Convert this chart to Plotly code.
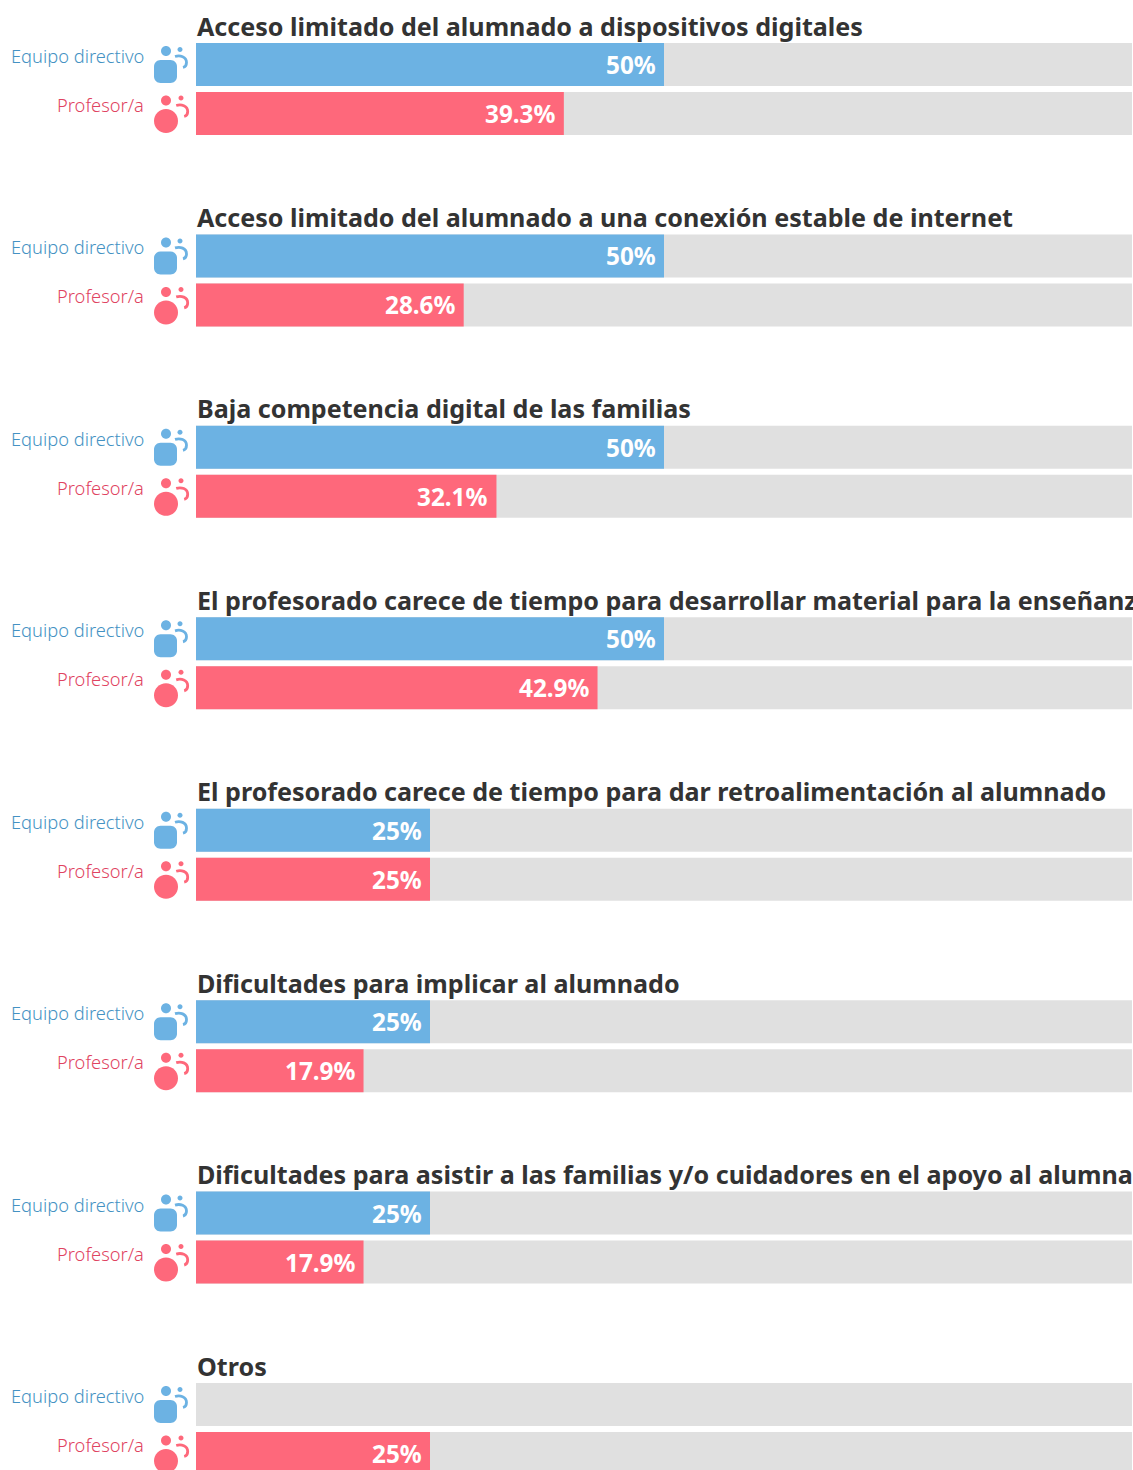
import plotly.graph_objects as go

categories = [
    "Acceso limitado del alumnado a dispositivos digitales",
    "Acceso limitado del alumnado a una conexión estable de internet",
    "Baja competencia digital de las familias",
    "El profesorado carece de tiempo para desarrollar material para la enseñanza",
    "El profesorado carece de tiempo para dar retroalimentación al alumnado",
    "Dificultades para implicar al alumnado",
    "Dificultades para asistir a las familias y/o cuidadores en el apoyo al alumnado",
    "Otros",
]
equipo_directivo = [50, 50, 50, 50, 25, 25, 25, None]
profesor = [39.3, 28.6, 32.1, 42.9, 25, 17.9, 17.9, 25]
series_names = ["Equipo directivo", "Profesor/a"]

W, H = 1133, 1470
LEFT, SCALE = 196, 9.36
STEP, ROW, BAR, C0 = 191.43, 49.0, 43.0, 64.5
BLUE, RED = "#6CB2E3", "#FE687B"
BLUE_T, RED_T = "#4492C3", "#DF4361"
TITLE_FONT = "Noto Sans"
LABEL_FONT = "Noto Sans"

n = len(categories)
y_blue = list(range(n))
y_red = [i + ROW / STEP for i in range(n)]
bw = BAR / STEP

def hv(ys, xs, color):
    return go.Bar(x=xs, y=ys, orientation="h", width=bw, marker=dict(color=color, line_width=0),
                  hoverinfo="skip", showlegend=False)

fig = go.Figure()
fig.add_trace(hv(y_blue, [100] * n, "#E0E0E0"))
fig.add_trace(hv(y_red, [100] * n, "#E0E0E0"))
fig.add_trace(hv(y_blue, equipo_directivo, BLUE))
fig.add_trace(hv(y_red, profesor, RED))

def circle(cx, cy, r):
    k = 0.5523 * r
    return (f"M{cx-r},{-cy} C{cx-r},{-cy+k} {cx-k},{-cy+r} {cx},{-cy+r} "
            f"C{cx+k},{-cy+r} {cx+r},{-cy+k} {cx+r},{-cy} "
            f"C{cx+r},{-cy-k} {cx+k},{-cy-r} {cx},{-cy-r} "
            f"C{cx-k},{-cy-r} {cx-r},{-cy-k} {cx-r},{-cy} Z")

def rrect(x0, y0, x1, y1, r):
    k = r * 0.45
    return (f"M{x0+r},{-y0} L{x1-r},{-y0} C{x1-k},{-y0} {x1},{-y0-k} {x1},{-y0-r} "
            f"L{x1},{-y1+r} C{x1},{-y1+k} {x1-k},{-y1} {x1-r},{-y1} "
            f"L{x0+r},{-y1} C{x0+k},{-y1} {x0},{-y1+k} {x0},{-y1+r} "
            f"L{x0},{-y0-r} C{x0},{-y0-k} {x0+k},{-y0} {x0+r},{-y0} Z")

def add_icon(y, color, body, head, small, arc_dx):
    for path in (body, head, small):
        fig.add_shape(type="path", path=path, xref="x", yref="y", xsizemode="pixel", ysizemode="pixel",
                      xanchor=0, yanchor=y, fillcolor=color, line_width=0, layer="above")
    arc = (f"M{-21+arc_dx},{8} C{-16+arc_dx},{9.5} {-9.5+arc_dx},{8} {-9.5+arc_dx},{2} "
           f"C{-9.5+arc_dx},{-0.5} {-11+arc_dx},{-2.5} {-13+arc_dx},{-3}")
    fig.add_shape(type="path", path=arc, xref="x", yref="y", xsizemode="pixel", ysizemode="pixel",
                  xanchor=0, yanchor=y, line=dict(color=color, width=2.8), layer="above")

for i in range(n):
    add_icon(y_blue[i], BLUE, rrect(-42, -4.5, -19, 18.5, 6.5), circle(-30, -13.5, 5), circle(-16, -15, 2.5), 0)
    add_icon(y_red[i], RED, circle(-30, 7.5, 12), circle(-30, -13, 5), circle(-15, -15.5, 2.5), 1.2)
    fig.add_annotation(x=0, y=y_blue[i], xref="x", yref="y", xshift=-1, yshift=39, text=categories[i],
                       xanchor="left", yanchor="middle", showarrow=False,
                       font=dict(family=TITLE_FONT, size=25.1, color="#333333", weight=700))
    for ys, name, col, vals in ((y_blue[i], series_names[0], BLUE_T, equipo_directivo),
                                (y_red[i], series_names[1], RED_T, profesor)):
        fig.add_annotation(x=0, y=ys, xref="x", yref="y", xshift=-50, yshift=9, text=name,
                           xanchor="right", yanchor="middle", showarrow=False,
                           font=dict(family=LABEL_FONT, size=18.3, color=col, weight=300))
        v = vals[i]
        if v is not None:
            fig.add_annotation(x=v, y=ys, xref="x", yref="y", xshift=-6, yshift=0, text=f"{v:g}%",
                               xanchor="right", yanchor="middle", showarrow=False,
                               font=dict(family=TITLE_FONT, size=24.3, color="white", weight=700))

fig.update_layout(
    width=W, height=H, margin=dict(l=0, r=0, t=0, b=0, pad=0), autosize=False,
    barmode="overlay", plot_bgcolor="white", paper_bgcolor="white", showlegend=False,
    xaxis=dict(range=[-LEFT / SCALE, (W - LEFT) / SCALE], visible=False, fixedrange=True),
    yaxis=dict(range=[(H - C0) / STEP, -C0 / STEP], visible=False, fixedrange=True),
)
fig.write_html("out.html", config=dict(displayModeBar=False),
               post_script="document.body.style.margin='0';document.body.style.overflow='hidden';")
